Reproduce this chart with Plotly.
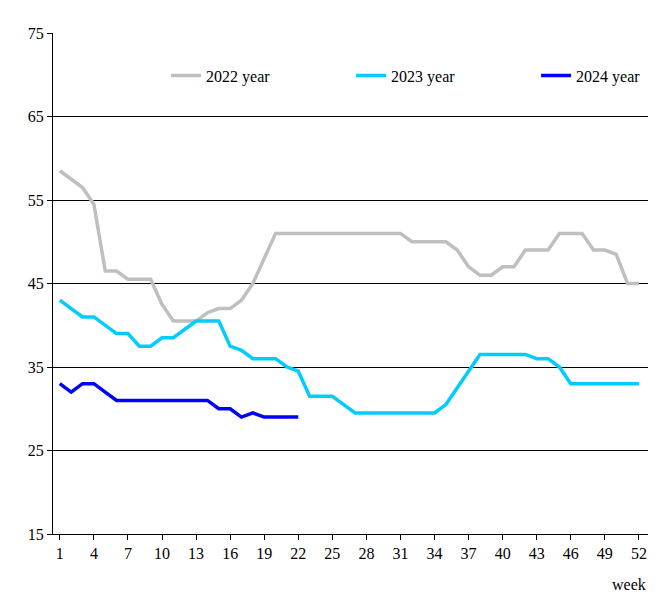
import plotly.graph_objects as go

weeks = list(range(1, 53))

y2022 = [58.5, 57.5, 56.5, 54.5, 46.5, 46.5, 45.5, 45.5, 45.5, 42.5,
         40.5, 40.5, 40.5, 41.5, 42, 42, 43, 45, 48, 51,
         51, 51, 51, 51, 51, 51, 51, 51, 51, 51,
         51, 50, 50, 50, 50, 49, 47, 46, 46, 47,
         47, 49, 49, 49, 51, 51, 51, 49, 49, 48.5,
         45, 45]

y2023 = [43, 42, 41, 41, 40, 39, 39, 37.5, 37.5, 38.5,
         38.5, 39.5, 40.5, 40.5, 40.5, 37.5, 37, 36, 36, 36,
         35, 34.5, 31.5, 31.5, 31.5, 30.5, 29.5, 29.5, 29.5, 29.5,
         29.5, 29.5, 29.5, 29.5, 30.5, 32.5, 34.5, 36.5, 36.5, 36.5,
         36.5, 36.5, 36, 36, 35, 33, 33, 33, 33, 33,
         33, 33]

y2024 = [33, 32, 33, 33, 32, 31, 31, 31, 31, 31,
         31, 31, 31, 31, 30, 30, 29, 29.5, 29, 29,
         29, 29]

series = [
    ("2022 year", y2022, "#bfbfbf"),
    ("2023 year", y2023, "#00ccff"),
    ("2024 year", y2024, "#0000ff"),
]

fig = go.Figure()
for name, vals, color in series:
    fig.add_trace(go.Scatter(x=weeks[:len(vals)], y=vals, name=name, mode="lines",
                             line=dict(color=color, width=3.5)))

fig.update_layout(
    width=659, height=616,
    margin=dict(l=45, r=19, t=25, b=90, autoexpand=False),
    plot_bgcolor="white", paper_bgcolor="white",
    font=dict(family="Times New Roman, Liberation Serif, serif", size=16, color="black"),
    legend=dict(orientation="h", x=0.19, xanchor="left", y=0.915, yanchor="middle",
                entrywidth=140, font=dict(size=16), bgcolor="rgba(0,0,0,0)"),
    showlegend=True,
)
fig.update_xaxes(range=[0.4, 52.8], tickvals=list(range(1, 53, 3)),
                 showgrid=False, showline=True, linecolor="black", automargin=False,
                 ticks="outside", ticklen=5, tickcolor="black", zeroline=False)
fig.update_yaxes(range=[15, 75], tick0=15, dtick=10, showgrid=True, gridcolor="black",
                 gridwidth=1, showline=True, linecolor="black", automargin=False,
                 ticks="outside", ticklen=5, tickcolor="black", zeroline=False)
fig.add_annotation(text="week", xref="paper", yref="paper", x=1.0, y=-0.1,
                   xanchor="right", yanchor="middle", showarrow=False,
                   font=dict(size=16))

fig.write_html("out.html")
